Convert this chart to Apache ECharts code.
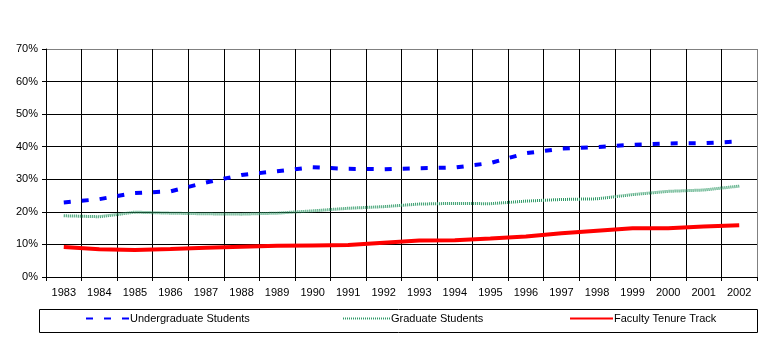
<!DOCTYPE html>
<html>
<head>
<meta charset="utf-8">
<script src="https://cdn.jsdelivr.net/npm/echarts@6/dist/echarts.min.js"></script>
<style>
  html, body { margin: 0; padding: 0; background: #fff; }
  #chart { width: 767px; height: 338px; }
</style>
</head>
<body>
<div id="chart"></div>
<script>
// Share of enrollment / faculty, by year (percent)
var years = ['1983','1984','1985','1986','1987','1988','1989','1990','1991','1992',
             '1993','1994','1995','1996','1997','1998','1999','2000','2001','2002'];
var undergraduate = [22.9, 23.9, 25.8, 26.3, 29.0, 31.3, 32.5, 33.7, 33.2, 33.1,
                     33.4, 33.6, 35.0, 38.0, 39.4, 39.9, 40.6, 41.0, 41.1, 41.6];
var graduate = [18.8, 18.5, 19.9, 19.6, 19.4, 19.3, 19.6, 20.3, 21.1, 21.6,
                22.4, 22.6, 22.5, 23.3, 23.8, 24.0, 25.3, 26.3, 26.7, 27.9];
var faculty = [9.2, 8.5, 8.3, 8.6, 9.0, 9.3, 9.6, 9.7, 9.8, 10.5,
               11.2, 11.3, 11.8, 12.4, 13.4, 14.2, 15.0, 15.0, 15.5, 15.9];
var yTicks = [0, 10, 20, 30, 40, 50, 60, 70];

var FONT = '"Liberation Sans", Arial, sans-serif';

var chart = echarts.init(document.getElementById('chart'), null, { renderer: 'canvas' });

// grid lines are black, the outer frame (top/right) is grey
var ySplitColors = yTicks.map(function (v, i) { return i === yTicks.length - 1 ? '#808080' : '#000'; });
var xSplitColors = years.map(function () { return '#000'; }).concat(['#808080']);

function legendFor(name, left, width) {
  return {
    data: [name],
    left: left,
    top: 313,
    itemWidth: width,
    itemHeight: 12,
    padding: 0,
    selectedMode: false,
    itemStyle: { opacity: 0 },
    textStyle: { fontFamily: FONT, fontSize: 11, color: '#000', padding: [0, 0, 0, -4] }
  };
}

chart.setOption({
  animation: false,
  backgroundColor: '#fff',
  grid: { left: 46, right: 10, top: 49, bottom: 61, containLabel: false },
  xAxis: {
    type: 'category',
    data: years,
    boundaryGap: true,
    axisLine: { lineStyle: { color: '#000', width: 1 } },
    axisTick: { show: true, length: 4, lineStyle: { color: '#000' } },
    axisLabel: { fontFamily: FONT, fontSize: 11, color: '#000', margin: 10 },
    splitLine: { show: true, lineStyle: { color: xSplitColors, width: 1 } }
  },
  yAxis: {
    type: 'value',
    min: 0,
    max: 70,
    interval: 10,
    axisLine: { show: true, lineStyle: { color: '#000', width: 1 } },
    axisTick: { show: true, length: 4, lineStyle: { color: '#000' } },
    axisLabel: { fontFamily: FONT, fontSize: 11, color: '#000', margin: 8, formatter: '{value}%' },
    splitLine: { show: true, lineStyle: { color: ySplitColors, width: 1 } }
  },
  legend: [
    legendFor('Undergraduate Students', 85, 43),
    legendFor('Graduate Students', 342, 47),
    legendFor('Faculty Tenure Track', 569, 43)
  ],
  graphic: [{
    type: 'rect',
    shape: { x: 39.5, y: 309.5, width: 718, height: 23 },
    style: { fill: 'none', stroke: '#000', lineWidth: 1 },
    z: 0
  }],
  series: [
    {
      name: 'Undergraduate Students',
      type: 'line',
      data: undergraduate,
      symbol: 'none',
      lineStyle: { color: '#0000FF', width: 4, type: [7, 11], cap: 'butt' },
      itemStyle: { color: '#0000FF' },
      z: 3
    },
    {
      name: 'Graduate Students',
      type: 'line',
      data: graduate,
      symbol: 'none',
      lineStyle: { color: '#2E9966', width: 3, type: [1, 1] },
      itemStyle: { color: '#2E9966' },
      z: 2
    },
    {
      name: 'Faculty Tenure Track',
      type: 'line',
      data: faculty,
      symbol: 'none',
      lineStyle: { color: '#FF0000', width: 4 },
      itemStyle: { color: '#FF0000' },
      z: 4
    }
  ]
});
</script>
</body>
</html>
